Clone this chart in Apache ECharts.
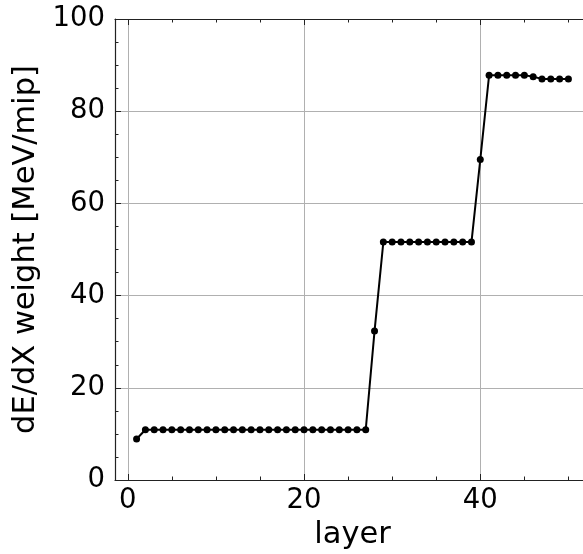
<!DOCTYPE html>
<html>
<head>
<meta charset="utf-8">
<script src="https://cdn.jsdelivr.net/npm/echarts@6/dist/echarts.min.js"></script>
<style>html,body{margin:0;padding:0;background:#fff}#c{width:583px;height:554px}</style>
</head>
<body>
<div id="c"></div>
<script>
const layers = [1,2,3,4,5,6,7,8,9,10,11,12,13,14,15,16,17,18,19,20,21,22,23,24,25,26,27,28,29,30,31,32,33,34,35,36,37,38,39,40,41,42,43,44,45,46,47,48,49,50];
const weights = [8.9,10.9,10.9,10.9,10.9,10.9,10.9,10.9,10.9,10.9,10.9,10.9,10.9,10.9,10.9,10.9,10.9,10.9,10.9,10.9,10.9,10.9,10.9,10.9,10.9,10.9,10.9,32.3,51.6,51.6,51.6,51.6,51.6,51.6,51.6,51.6,51.6,51.6,51.6,69.5,87.8,87.8,87.8,87.8,87.8,87.5,87.0,87.0,87.0,87.0];
const xMajorTicks = [0,20,40];
const yTicks = [0,20,40,60,80,100];
const xTitle = 'layer';
const yTitle = 'dE/dX weight [MeV/mip]';

const FONT = 'DejaVu Sans';
const spine = {show:true, lineStyle:{color:'#222', width:1.2}};
const chart = echarts.init(document.getElementById('c'), null, {renderer:'canvas'});
chart.setOption({
  animation:false,
  backgroundColor:'#fff',
  grid:{left:115, top:19, width:475, height:461, containLabel:false, outerBoundsMode:'none'},
  xAxis:[{
    type:'value', position:'bottom', min:-1.45, max:52.45, splitNumber:3,
    axisLine:Object.assign({onZero:false}, spine),
    axisTick:{show:true, inside:true, length:6, customValues:xMajorTicks, lineStyle:{color:'#222'}},
    minorTick:{show:true, splitNumber:4, length:3.5, lineStyle:{color:'#222'}},
    axisLabel:{customValues:xMajorTicks, color:'#000', fontFamily:FONT, fontSize:27.5, margin:7},
    splitLine:{show:true, lineStyle:{color:'#b0b0b0', width:1}},
    name:xTitle, nameLocation:'middle', nameGap:37,
    nameTextStyle:{color:'#000', fontFamily:FONT, fontSize:30.5}
  },{
    type:'value', position:'top', min:-1.45, max:52.45, splitNumber:3,
    axisLine:Object.assign({onZero:false}, spine),
    axisTick:{show:true, inside:true, length:6, customValues:xMajorTicks, lineStyle:{color:'#222'}},
    minorTick:{show:true, splitNumber:4, length:3.5, lineStyle:{color:'#222'}},
    axisLabel:{show:false},
    splitLine:{show:false}
  }],
  yAxis:[{
    type:'value', position:'left', min:0, max:100, interval:20,
    axisLine:Object.assign({onZero:false}, spine),
    axisTick:{show:true, inside:true, length:6, lineStyle:{color:'#222'}},
    minorTick:{show:true, splitNumber:4, length:3.5, lineStyle:{color:'#222'}},
    axisLabel:{color:'#000', fontFamily:FONT, fontSize:27.5, margin:10,
      formatter:function(v){return yTicks.indexOf(v)>=0 ? String(v) : '';}},
    splitLine:{show:true, lineStyle:{color:'#b0b0b0', width:1}},
    name:yTitle, nameLocation:'middle', nameGap:72, nameRotate:90,
    nameTextStyle:{color:'#000', fontFamily:FONT, fontSize:30.5}
  }],
  series:[{
    type:'line', xAxisIndex:0, yAxisIndex:0,
    data: layers.map((l,i)=>[l, weights[i]]),
    symbol:'circle', symbolSize:7, showSymbol:true,
    itemStyle:{color:'#000'},
    lineStyle:{color:'#000', width:2},
    z:5
  }]
});
</script>
</body>
</html>
